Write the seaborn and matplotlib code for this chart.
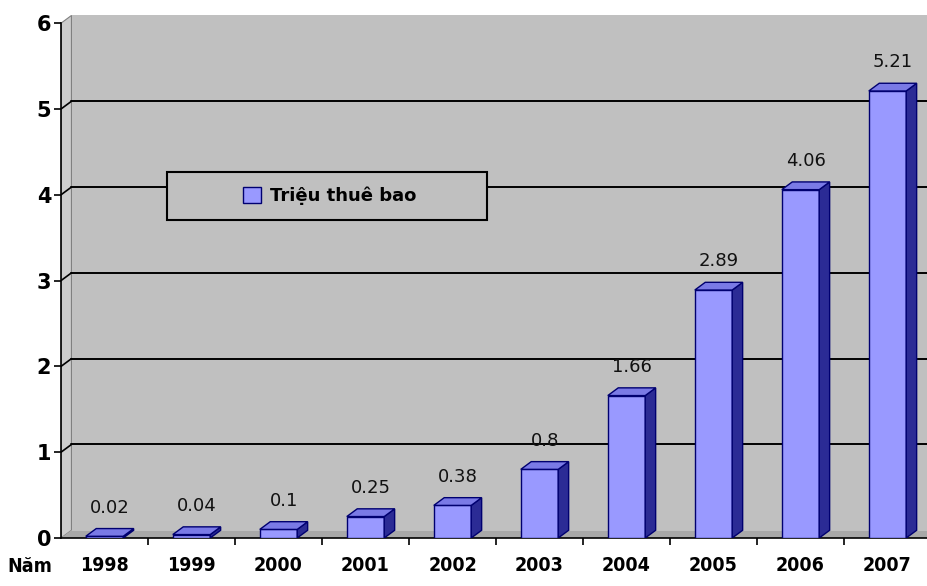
import matplotlib
matplotlib.use('Agg')
import matplotlib.pyplot as plt
import seaborn as sns
import pandas as pd
from matplotlib.patches import Polygon, Rectangle, Patch

# ---- data ----
years = ['1998', '1999', '2000', '2001', '2002', '2003', '2004', '2005', '2006', '2007']
subscribers = [0.02, 0.04, 0.1, 0.25, 0.38, 0.8, 1.66, 2.89, 4.06, 5.21]
value_labels = ['0.02', '0.04', '0.1', '0.25', '0.38', '0.8', '1.66', '2.89', '4.06', '5.21']
y_ticks = [0, 1, 2, 3, 4, 5, 6]
legend_label = 'Triệu thuê bao'
x_prefix = 'Năm'

sns.set_theme(style='white')
plt.rcParams['font.family'] = ['DejaVu Sans']

W, H = 927, 586
fig = plt.figure(figsize=(W / 100, H / 100), dpi=100)
fig.patch.set_facecolor('white')

px_per_unit = 85.8
dx, dy = 0.12, 0.09          # 3D depth (category units, value units)
ymax = 6 + dy
ax = fig.add_axes([61 / W, 48 / H, 870 / W, ymax * px_per_unit / H])
ax.set_facecolor('white')

df = pd.DataFrame({'year': years, 'value': subscribers})
sns.barplot(data=df, x='year', y='value', color='#9999ff', saturation=1,
            width=0.43, edgecolor='#000070', linewidth=1.0, ax=ax, zorder=3)

ax.set_xlim(-0.5, len(years) - 0.5)
ax.set_ylim(0, ymax)

# walls / floor
x0, x1 = -0.5, len(years) - 0.5
ax.add_patch(Polygon([(x0 + dx, dy), (x1 + dx, dy), (x1 + dx, 6 + dy), (x0 + dx, 6 + dy)],
                     closed=True, facecolor='#c0c0c0', edgecolor='none', zorder=0))
ax.add_patch(Polygon([(x0, 0), (x0 + dx, dy), (x0 + dx, 6 + dy), (x0, 6)],
                     closed=True, facecolor='#cdcdcd', edgecolor='#808080', lw=0.8, zorder=0.5))
ax.add_patch(Polygon([(x0, 0), (x1, 0), (x1 + dx, dy), (x0 + dx, dy)],
                     closed=True, facecolor='#a8a8a8', edgecolor='none', zorder=0.5))
for v in y_ticks[1:-1]:
    ax.plot([x0, x0 + dx], [v, v + dy], color='black', lw=1.2, zorder=1)
    ax.plot([x0 + dx, x1 + dx], [v + dy, v + dy], color='black', lw=1.4, zorder=1)

# 3D sides and tops of bars
for p, lab in zip(ax.patches[:len(years)], value_labels):
    bx, bw, bh = p.get_x(), p.get_width(), p.get_height()
    side = [(bx + bw, 0), (bx + bw + dx, dy), (bx + bw + dx, bh + dy), (bx + bw, bh)]
    top = [(bx, bh), (bx + dx, bh + dy), (bx + bw + dx, bh + dy), (bx + bw, bh)]
    ax.add_patch(Polygon(side, closed=True, facecolor='#2b2b95', edgecolor='#000070', lw=1.0, zorder=3))
    ax.add_patch(Polygon(top, closed=True, facecolor='#7a7ae6', edgecolor='#000070', lw=1.0, zorder=3))
    ax.text(bx + bw / 2 + dx / 2, bh + dy + 0.14, lab, ha='center', va='bottom',
            fontsize=13, color='#111111', zorder=4)

# axes styling
for s in ['top', 'right']:
    ax.spines[s].set_visible(False)
ax.spines['left'].set_bounds(0, 6)
ax.spines['left'].set_color('black')
ax.spines['left'].set_linewidth(1.2)
ax.spines['bottom'].set_color('black')
ax.spines['bottom'].set_linewidth(1.2)
ax.spines['bottom'].set_zorder(2)

ax.set_yticks(y_ticks)
ax.set_yticklabels([str(t) for t in y_ticks], fontsize=15, fontweight='heavy', color='black')
ax.tick_params(axis='y', direction='out', length=5, width=1.2, color='black', pad=2, left=True)

ax.set_xticks(range(len(years)))
ax.set_xticklabels(years, fontsize=14, fontweight='heavy', fontstretch='condensed', color='black')
ax.set_xticks([i + 0.5 for i in range(len(years))], minor=True)
ax.tick_params(axis='x', which='major', length=0, pad=13)
ax.tick_params(axis='x', which='minor', direction='out', length=5, width=1.2, color='black', bottom=True)
ax.set_xlabel('')
ax.set_ylabel('')

fig.text(30 / W, 1 - 566 / H, x_prefix, ha='center', va='center', fontsize=14,
         fontweight='heavy', fontstretch='condensed', color='black')

# legend box
ax.add_patch(Rectangle((167 / W, 1 - 220 / H), 320 / W, 48 / H, transform=fig.transFigure,
                       facecolor='#c0c0c0', edgecolor='black', lw=1.5, zorder=4.5, clip_on=False))
handle = Patch(facecolor='#9999ff', edgecolor='#000070', lw=1.0)
leg = ax.legend([handle], [legend_label], loc='center', frameon=False,
                bbox_to_anchor=(330 / W, 1 - 196 / H), bbox_transform=fig.transFigure,
                prop={'weight': 'bold', 'size': 13}, handlelength=1.0, handleheight=1.0,
                handletextpad=0.5, labelcolor='black')
leg.set_zorder(5)

fig.savefig('out.png', dpi=100, facecolor='white')
